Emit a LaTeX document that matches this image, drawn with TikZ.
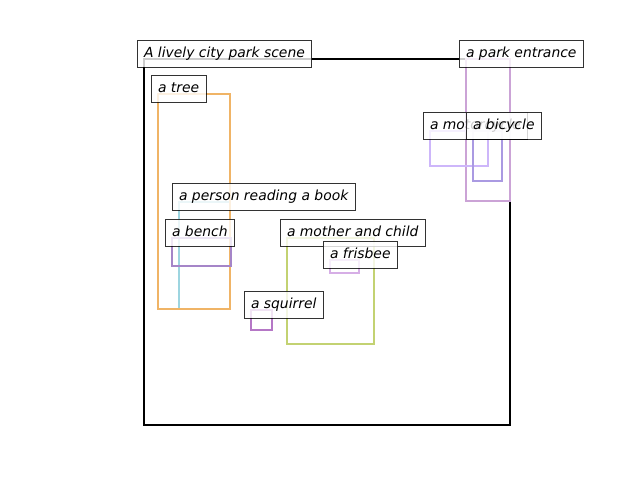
\documentclass[tikz,border=0pt]{standalone}
\usepackage{fontspec}
\newfontfamily\lblfont{DejaVu Sans}
\definecolor{ctree}{HTML}{F0B466}
\definecolor{cperson}{HTML}{9DD5E0}
\definecolor{cbench}{HTML}{A585C8}
\definecolor{cmother}{HTML}{C3D272}
\definecolor{cfrisbee}{HTML}{D6AEE6}
\definecolor{csquirrel}{HTML}{B577C6}
\definecolor{cmoto}{HTML}{CDB6FA}
\definecolor{cbike}{HTML}{AA9AE2}
\definecolor{centrance}{HTML}{CBA3D6}
\tikzset{
  bbox/.style={line width=2pt},
  lbl/.style={anchor=west, draw=black, fill=white, opacity=0.8, text opacity=1,
    line width=1pt, inner xsep=7pt, inner ysep=0pt, minimum height=27pt, outer sep=0pt,
    text height=11pt, text depth=2.6pt,
    font=\lblfont\itshape\fontsize{13.9}{16}\selectfont}
}
\begin{document}
\begin{tikzpicture}[x=1pt,y=-1pt]
\useasboundingbox (0,0) rectangle (640,480);
% rectangles
\draw[bbox, black] (144,59) rectangle (510,425);
\draw[bbox, cperson] (179,202) rectangle (230,309);
\draw[bbox, ctree] (158,94) rectangle (230,309);
\draw[bbox, centrance] (466,59) rectangle (510,201);
\draw[bbox, cmoto] (430,131) rectangle (487.5,165.5);
\draw[bbox, cbike] (473,131) rectangle (502,180.5);
\draw[bbox, cbench] (172,238) rectangle (230.5,266);
\draw[bbox, cmother] (287,238) rectangle (373.5,344);
\draw[bbox, cfrisbee] (330,259.5) rectangle (358.5,273);
\draw[bbox, csquirrel] (251,310) rectangle (272,330);
% labels
\node[lbl] (lscene) at (137,53.5) {A lively city park scene};
\node[lbl] (ltree) at (151,88.5) {a tree};
\node[lbl] (lentr) at (459,53.5) {a park entrance};
\node[lbl] (lmoto) at (423,125.5) {a motorcycle};
\node[lbl] (lbike) at (466,125.5) {a bicycle};
\node[lbl] (lperson) at (172,196.5) {a person reading a book};
\node[lbl] (lbench) at (165,232.5) {a bench};
\node[lbl] (lmother) at (280,232.5) {a mother and child};
\node[lbl] (lfrisbee) at (323,254.5) {a frisbee};
\node[lbl] (lsquirrel) at (244,304.5) {a squirrel};
\end{tikzpicture}
\end{document}
